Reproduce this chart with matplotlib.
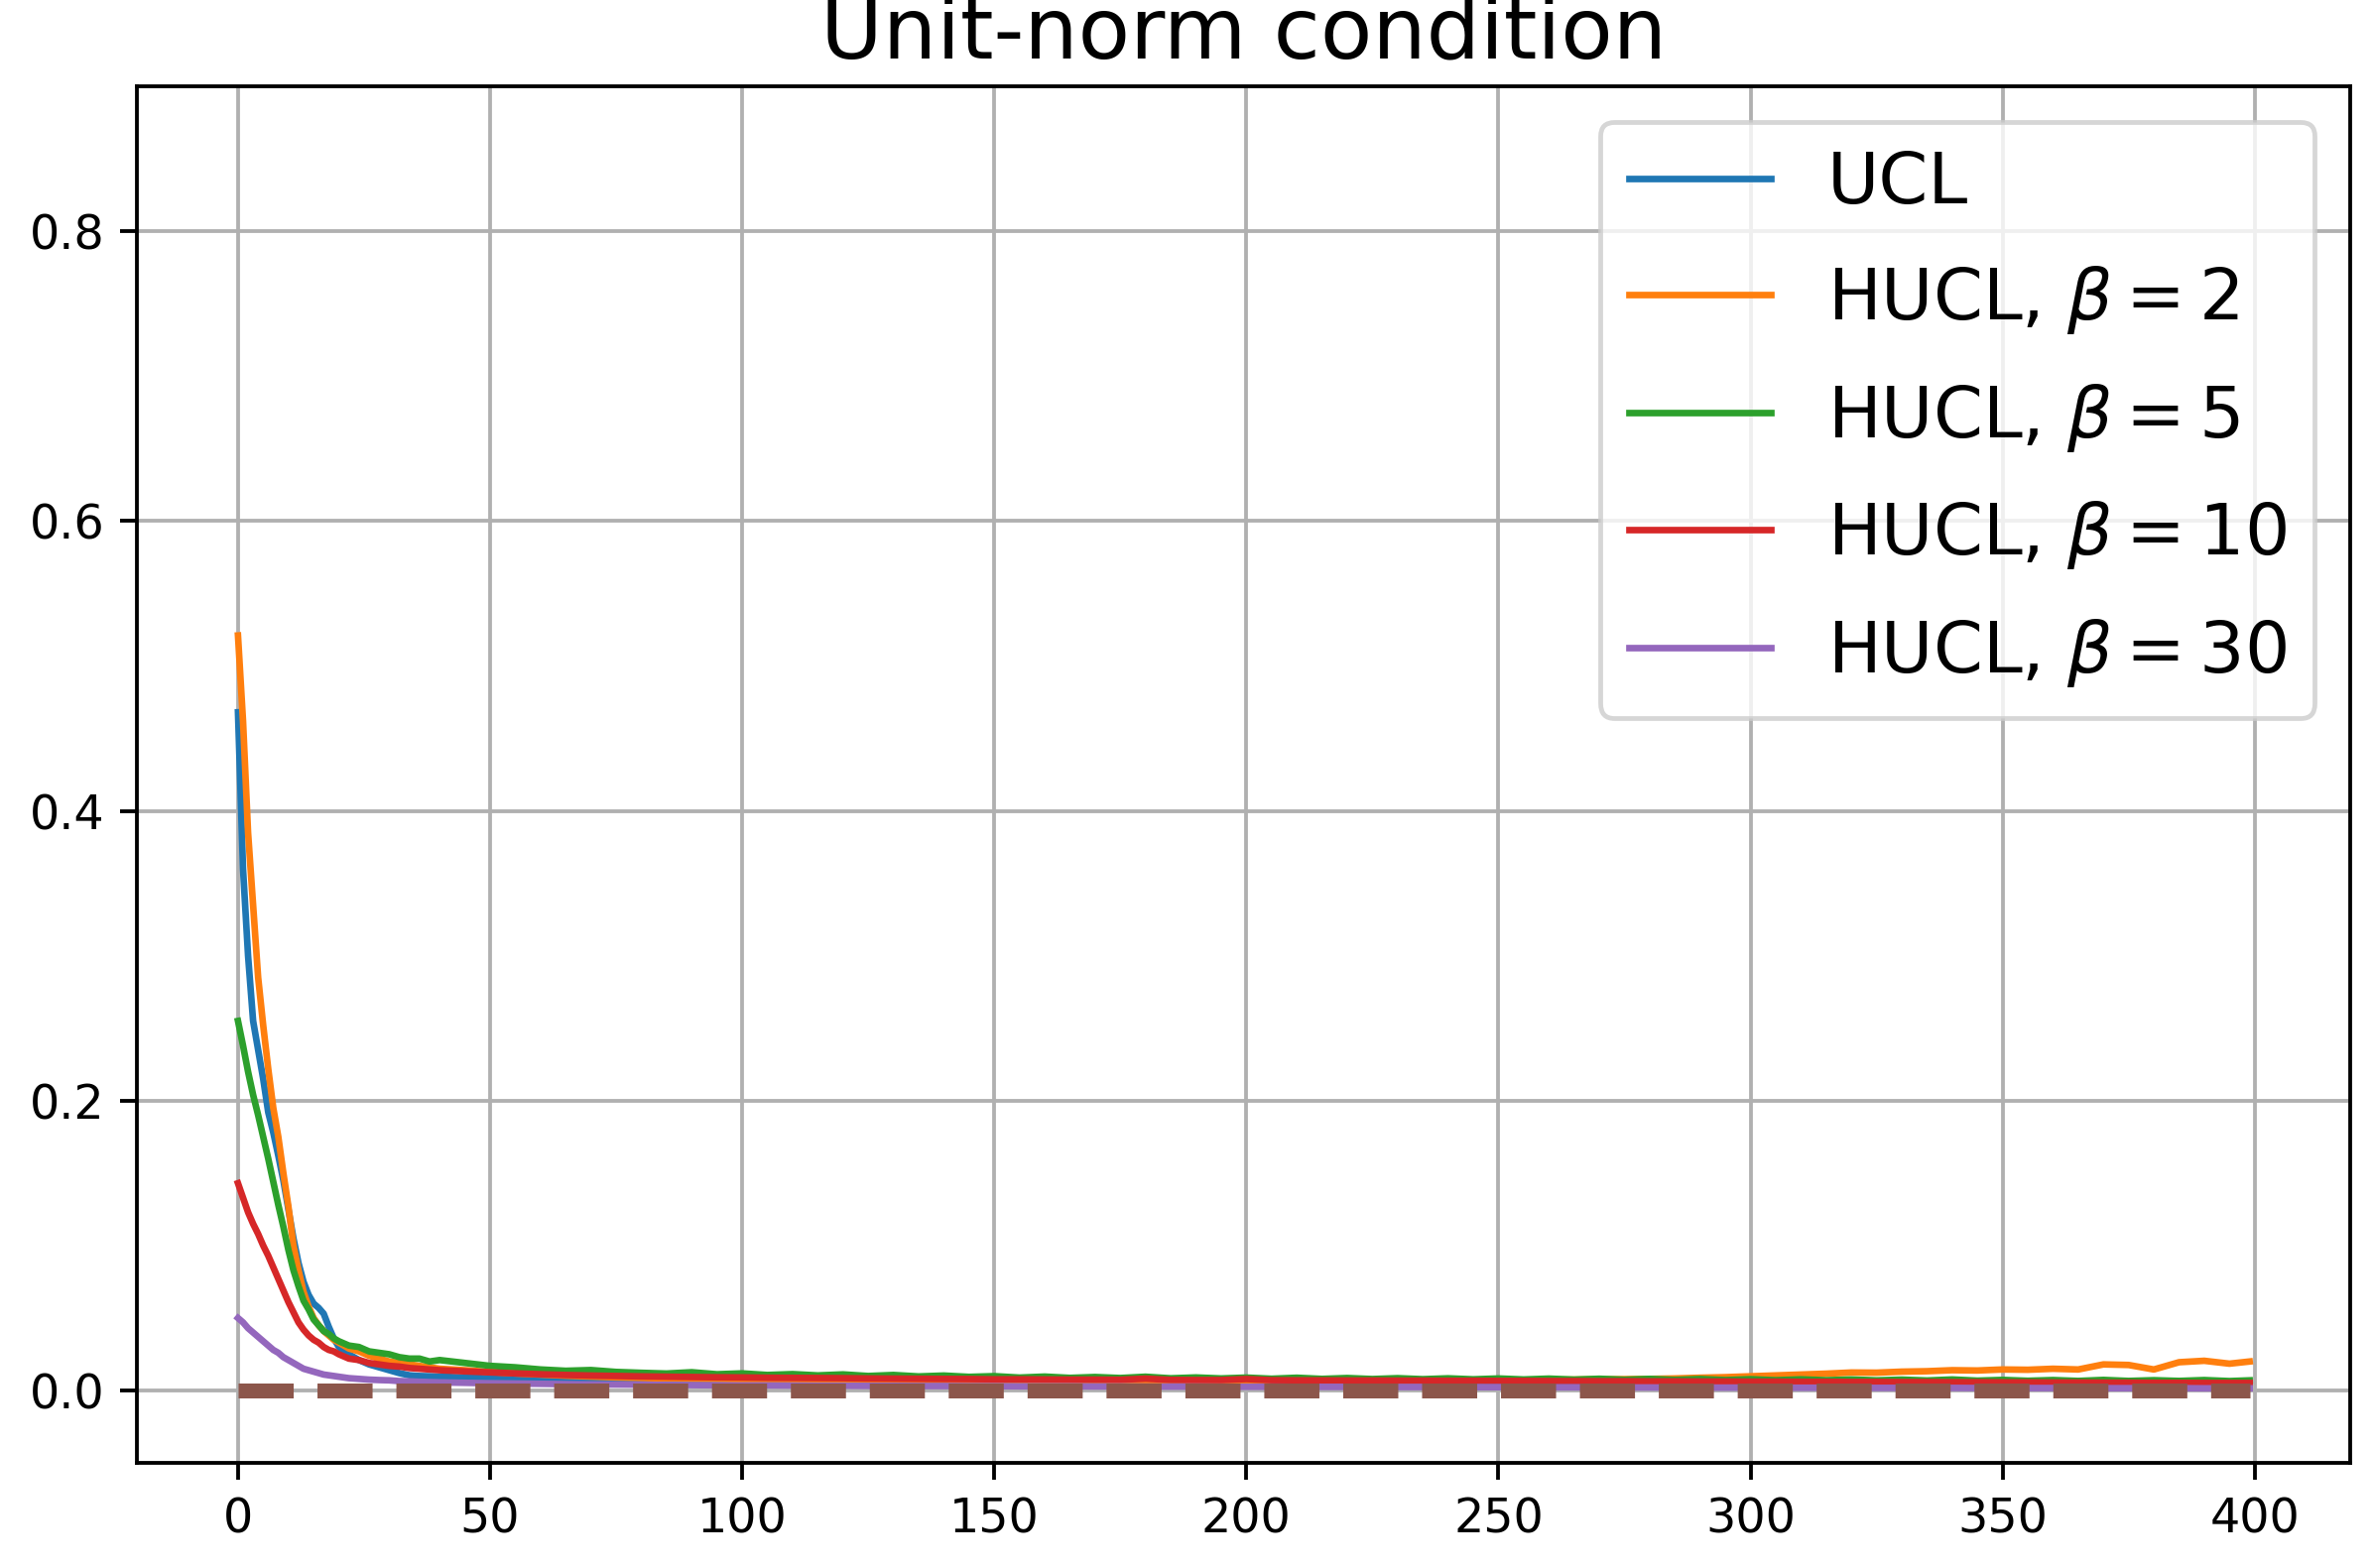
import matplotlib
matplotlib.use("Agg")
import matplotlib.pyplot as plt

# iterations: dense at the start, then every 5 steps
x_early = [0, 1, 2, 3, 4, 5, 6, 7, 8, 9, 10,
           11, 12, 13, 14, 15, 16, 17, 18, 19, 20,
           22, 24, 26, 28, 30, 32, 34, 36, 38, 40]
x_tail = [45, 50, 55, 60, 65, 70, 75, 80,
          85, 90, 95, 100, 105, 110, 115, 120,
          125, 130, 135, 140, 145, 150, 155, 160,
          165, 170, 175, 180, 185, 190, 195, 200,
          205, 210, 215, 220, 225, 230, 235, 240,
          245, 250, 255, 260, 265, 270, 275, 280,
          285, 290, 295, 300, 305, 310, 315, 320,
          325, 330, 335, 340, 345, 350, 355, 360,
          365, 370, 375, 380, 385, 390, 395, 399]

ucl_early = [0.468, 0.360, 0.300, 0.255, 0.235, 0.215, 0.192, 0.178, 0.162, 0.145, 0.125,
             0.105, 0.088, 0.075, 0.066, 0.060, 0.057, 0.053, 0.044, 0.036, 0.030,
             0.025, 0.021, 0.018, 0.016, 0.014, 0.012, 0.0105, 0.0100, 0.0098, 0.0096]
ucl_tail = [0.0090, 0.0085, 0.0082, 0.0078, 0.0076, 0.0073, 0.0071, 0.0070,
            0.0068, 0.0067, 0.0066, 0.0065, 0.0064, 0.0063, 0.0062, 0.0062,
            0.0061, 0.0060, 0.0060, 0.0059, 0.0059, 0.0058, 0.0058, 0.0057,
            0.0057, 0.0056, 0.0056, 0.0055, 0.0055, 0.0054, 0.0054, 0.0053,
            0.0053, 0.0053, 0.0052, 0.0052, 0.0052, 0.0051, 0.0051, 0.0051,
            0.0050, 0.0050, 0.0050, 0.0049, 0.0049, 0.0049, 0.0048, 0.0048,
            0.0048, 0.0047, 0.0047, 0.0047, 0.0047, 0.0046, 0.0046, 0.0046,
            0.0046, 0.0045, 0.0045, 0.0045, 0.0045, 0.0045, 0.0044, 0.0044,
            0.0044, 0.0044, 0.0044, 0.0044, 0.0043, 0.0043, 0.0043, 0.0043]

b2_early = [0.521, 0.462, 0.385, 0.335, 0.285, 0.252, 0.222, 0.195, 0.175, 0.150, 0.127,
            0.100, 0.083, 0.068, 0.058, 0.050, 0.045, 0.041, 0.038, 0.035, 0.033,
            0.029, 0.027, 0.024, 0.022, 0.020, 0.019, 0.018, 0.017, 0.016, 0.015]
b2_tail = [0.0140, 0.0128, 0.0118, 0.0110, 0.0102, 0.0096, 0.0090, 0.0086,
           0.0083, 0.0080, 0.0079, 0.0077, 0.0076, 0.0074, 0.0073, 0.0072,
           0.0071, 0.0070, 0.0071, 0.0069, 0.0069, 0.0068, 0.0069, 0.0068,
           0.0067, 0.0068, 0.0067, 0.0066, 0.0067, 0.0066, 0.0066, 0.0065,
           0.0066, 0.0065, 0.0066, 0.0065, 0.0066, 0.0066, 0.0067, 0.0068,
           0.0069, 0.0070, 0.0072, 0.0074, 0.0075, 0.0077, 0.0078, 0.0080,
           0.0083, 0.0088, 0.0092, 0.0098, 0.0104, 0.0110, 0.0116, 0.0124,
           0.0123, 0.0130, 0.0133, 0.0140, 0.0138, 0.0145, 0.0143, 0.0150,
           0.0145, 0.0180, 0.0176, 0.0145, 0.0195, 0.0205, 0.0185, 0.0200]

b5_early = [0.255, 0.238, 0.220, 0.204, 0.190, 0.175, 0.160, 0.144, 0.128, 0.113, 0.097,
            0.083, 0.072, 0.062, 0.056, 0.049, 0.045, 0.041, 0.039, 0.036, 0.034,
            0.031, 0.030, 0.027, 0.026, 0.025, 0.023, 0.022, 0.022, 0.020, 0.021]
b5_tail = [0.0190, 0.0170, 0.0160, 0.0145, 0.0136, 0.0141, 0.0128, 0.0122,
           0.0117, 0.0126, 0.0112, 0.0118, 0.0107, 0.0113, 0.0104, 0.0111,
           0.0100, 0.0107, 0.0097, 0.0103, 0.0094, 0.0099, 0.0089, 0.0096,
           0.0087, 0.0093, 0.0086, 0.0095, 0.0084, 0.0090, 0.0083, 0.0089,
           0.0081, 0.0088, 0.0080, 0.0086, 0.0079, 0.0085, 0.0078, 0.0084,
           0.0077, 0.0083, 0.0076, 0.0082, 0.0075, 0.0081, 0.0074, 0.0080,
           0.0073, 0.0079, 0.0072, 0.0078, 0.0071, 0.0077, 0.0071, 0.0076,
           0.0070, 0.0075, 0.0069, 0.0076, 0.0068, 0.0073, 0.0067, 0.0072,
           0.0066, 0.0073, 0.0066, 0.0071, 0.0066, 0.0072, 0.0065, 0.0070]

b10_early = [0.143, 0.133, 0.123, 0.115, 0.108, 0.100, 0.093, 0.085, 0.077, 0.069, 0.061,
             0.054, 0.047, 0.042, 0.038, 0.035, 0.033, 0.030, 0.028, 0.027, 0.025,
             0.022, 0.021, 0.019, 0.018, 0.017, 0.0165, 0.0155, 0.0150, 0.0145, 0.0140]
b10_tail = [0.0132, 0.0125, 0.0118, 0.0112, 0.0107, 0.0103, 0.0100, 0.0097,
            0.0095, 0.0093, 0.0091, 0.0090, 0.0088, 0.0087, 0.0086, 0.0085,
            0.0083, 0.0082, 0.0081, 0.0080, 0.0079, 0.0077, 0.0077, 0.0076,
            0.0075, 0.0075, 0.0074, 0.0082, 0.0073, 0.0072, 0.0072, 0.0079,
            0.0071, 0.0070, 0.0070, 0.0069, 0.0069, 0.0068, 0.0068, 0.0067,
            0.0067, 0.0066, 0.0066, 0.0065, 0.0065, 0.0064, 0.0064, 0.0063,
            0.0063, 0.0062, 0.0062, 0.0061, 0.0061, 0.0060, 0.0060, 0.0059,
            0.0059, 0.0058, 0.0058, 0.0057, 0.0057, 0.0056, 0.0056, 0.0055,
            0.0055, 0.0054, 0.0054, 0.0053, 0.0053, 0.0052, 0.0052, 0.0052]

b30_early = [0.050, 0.047, 0.043, 0.040, 0.037, 0.034, 0.031, 0.028, 0.026, 0.023, 0.021,
             0.019, 0.017, 0.015, 0.014, 0.013, 0.012, 0.011, 0.0105, 0.0100, 0.0095,
             0.0085, 0.0080, 0.0075, 0.0072, 0.0070, 0.0065, 0.0063, 0.0060, 0.0058, 0.0056]
b30_tail = [0.0053, 0.0050, 0.0048, 0.0046, 0.0044, 0.0042, 0.0041, 0.0040,
            0.0038, 0.0037, 0.0036, 0.0035, 0.0035, 0.0034, 0.0033, 0.0033,
            0.0032, 0.0032, 0.0031, 0.0031, 0.0030, 0.0030, 0.0029, 0.0029,
            0.0029, 0.0028, 0.0028, 0.0027, 0.0027, 0.0027, 0.0026, 0.0026,
            0.0026, 0.0025, 0.0025, 0.0025, 0.0024, 0.0024, 0.0024, 0.0023,
            0.0023, 0.0023, 0.0022, 0.0022, 0.0022, 0.0021, 0.0021, 0.0021,
            0.0020, 0.0020, 0.0020, 0.0020, 0.0019, 0.0019, 0.0019, 0.0019,
            0.0018, 0.0018, 0.0018, 0.0018, 0.0017, 0.0017, 0.0017, 0.0017,
            0.0016, 0.0016, 0.0016, 0.0016, 0.0016, 0.0015, 0.0015, 0.0015]

# target: the norm condition holds exactly
ref_x = [0, 399]
ref_y = [0.0, 0.0]

steps = x_early + x_tail
series = [
    (ucl_early + ucl_tail, "UCL"),
    (b2_early + b2_tail, r"HUCL, $\beta = 2$"),
    (b5_early + b5_tail, r"HUCL, $\beta = 5$"),
    (b10_early + b10_tail, r"HUCL, $\beta = 10$"),
    (b30_early + b30_tail, r"HUCL, $\beta = 30$"),
]

DPI = 343
fig = plt.figure(figsize=(2392 / DPI, 1581 / DPI), dpi=DPI)
ax = fig.add_axes([0.0579, 0.0670, 0.9325, 0.878])

for vals, label in series:
    ax.plot(steps, vals, linewidth=1.4, label=label)
ax.plot(ref_x, ref_y, color="C5", linestyle="--", linewidth=3.15)

ax.set_xlim(-19.95, 418.95)
ax.set_ylim(-0.05, 0.9)
ax.set_yticks([0.0, 0.2, 0.4, 0.6, 0.8])
ax.grid(True)
ax.set_title("Unit-norm condition", fontsize=18)
ax.legend(loc="upper right", fontsize=15, labelspacing=0.64)

fig.savefig("out.png", dpi=DPI)
